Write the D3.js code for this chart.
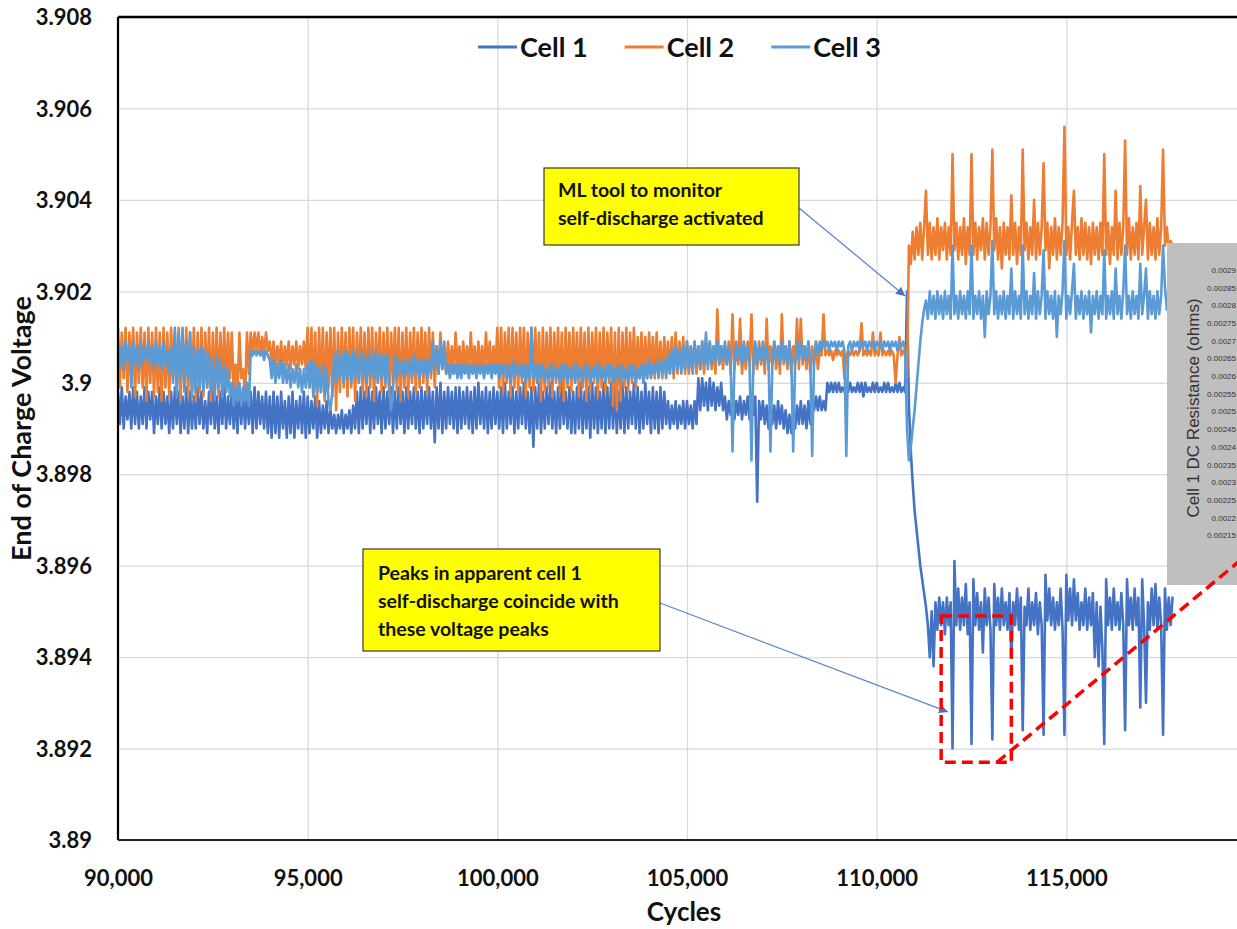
<!DOCTYPE html>
<html>
<head>
<meta charset="utf-8">
<script src="https://cdn.jsdelivr.net/npm/d3@7"></script>
<style>
  html, body { margin: 0; padding: 0; background: #ffffff; }
  svg { display: block; }
  .lato { font-family: Lato, "Open Sans", "Noto Sans", sans-serif; }
  .arial { font-family: "Liberation Sans", Arial, sans-serif; }
</style>
</head>
<body>
<svg id="chart" width="1237" height="929"></svg>
<script>
// End-of-charge voltage, one reading every 50 cycles from cycle 90,000 (one row = 1,000 cycles)
const CYCLE_START = 90000;
const CYCLE_STEP = 50;

const cell1 = [
  3.8998,3.8991,3.8999,3.8990,3.8997,3.8992,3.8998,3.8990,3.8999,3.8991,3.8998,3.8990,3.8997,3.8991,3.8999,3.8990,3.8998,3.8992,3.8998,3.8989,
  3.8997,3.8991,3.8999,3.8990,3.8998,3.8991,3.8997,3.8989,3.8998,3.8990,3.8999,3.8991,3.8998,3.8989,3.8997,3.8990,3.8999,3.8989,3.8998,3.8990,
  3.8997,3.8990,3.8999,3.8991,3.8998,3.8990,3.8996,3.8989,3.8998,3.8991,3.8999,3.8990,3.8997,3.8989,3.8998,3.8991,3.8999,3.8990,3.8997,3.8991,
  3.8998,3.8990,3.8997,3.8989,3.8999,3.8991,3.8998,3.8990,3.8997,3.8991,3.8998,3.8989,3.8999,3.8990,3.8998,3.8991,3.8997,3.8990,3.8998,3.8989,
  3.8997,3.8988,3.8998,3.8989,3.8997,3.8988,3.8998,3.8990,3.8996,3.8988,3.8997,3.8989,3.8998,3.8988,3.8996,3.8990,3.8997,3.8989,3.8998,3.8988,
  3.8997,3.8989,3.8996,3.8990,3.8997,3.8988,3.8996,3.8989,3.8995,3.8990,3.8996,3.8989,3.8994,3.8990,3.8993,3.8989,3.8993,3.8990,3.8994,3.8989,
  3.8993,3.8990,3.8994,3.8989,3.8995,3.8990,3.8998,3.8989,3.8999,3.8990,3.8998,3.8991,3.8999,3.8989,3.8998,3.8990,3.8999,3.8991,3.8998,3.8989,
  3.8999,3.8990,3.8998,3.8991,3.8999,3.8989,3.8998,3.8990,3.8999,3.8991,3.8998,3.8989,3.8999,3.8990,3.8998,3.8991,3.8999,3.8990,3.8998,3.8989,
  3.8999,3.8990,3.8998,3.8991,3.8999,3.8990,3.8998,3.8987,3.8999,3.8990,3.9000,3.8989,3.8998,3.8990,3.8999,3.8991,3.8998,3.8990,3.8999,3.8989,
  3.8999,3.8990,3.8998,3.8991,3.8999,3.8990,3.8998,3.8989,3.8999,3.8990,3.9000,3.8991,3.8998,3.8990,3.8999,3.8989,3.8998,3.8990,3.8999,3.8991,
  3.8998,3.8990,3.8999,3.8989,3.9000,3.8990,3.8998,3.8991,3.8999,3.8989,3.8998,3.8990,3.8999,3.8991,3.9000,3.8990,3.8998,3.8989,3.8999,3.8986,
  3.8999,3.8990,3.9000,3.8989,3.8998,3.8990,3.8999,3.8991,3.9000,3.8990,3.8998,3.8989,3.8999,3.8990,3.9000,3.8991,3.8998,3.8990,3.8999,3.8989,
  3.8998,3.8989,3.8999,3.8990,3.9000,3.8989,3.8998,3.8990,3.8999,3.8988,3.9000,3.8990,3.8999,3.8989,3.8998,3.8990,3.9000,3.8989,3.8999,3.8990,
  3.9000,3.8990,3.8999,3.8989,3.8998,3.8990,3.9000,3.8989,3.8999,3.8990,3.8998,3.8991,3.9000,3.8990,3.8999,3.8989,3.8998,3.8990,3.9000,3.8991,
  3.8998,3.8989,3.8999,3.8990,3.8998,3.8989,3.8999,3.8990,3.8998,3.8991,3.8996,3.8990,3.8995,3.8991,3.8996,3.8990,3.8995,3.8991,3.8996,3.8990,
  3.8996,3.8991,3.8995,3.8990,3.8996,3.8991,3.9001,3.8994,3.9001,3.8995,3.9000,3.8994,3.9001,3.8995,3.9000,3.8994,3.8999,3.8995,3.9000,3.8994,
  3.8997,3.8992,3.8996,3.8993,3.8997,3.8992,3.8996,3.8993,3.8997,3.8992,3.8996,3.8993,3.8997,3.8992,3.8996,3.8993,3.8997,3.8974,3.8996,3.8992,
  3.8996,3.8991,3.8995,3.8990,3.8996,3.8991,3.8995,3.8990,3.8996,3.8991,3.8995,3.8990,3.8994,3.8989,3.8993,3.8989,3.8994,3.8990,3.8995,3.8991,
  3.8996,3.8991,3.8995,3.8990,3.8996,3.8991,3.8997,3.8994,3.8997,3.8994,3.8997,3.8994,3.8996,3.8994,3.9000,3.8998,3.9000,3.8998,3.9000,3.8998,
  3.9000,3.8998,3.8999,3.8998,3.9000,3.8998,3.9000,3.8998,3.8999,3.8998,3.9000,3.8998,3.9000,3.8997,3.9000,3.8998,3.8999,3.8998,3.9000,3.8998,
  3.9000,3.8998,3.8999,3.8998,3.9000,3.8998,3.9000,3.8998,3.8999,3.8998,3.9000,3.8998,3.9000,3.8998,3.8999,3.8998,3.9020,3.8995,3.8985,3.8978,
  3.8972,3.8968,3.8964,3.8960,3.8957,3.8954,3.8951,3.8947,3.8940,3.8950,3.8938,3.8952,3.8946,3.8953,3.8947,3.8952,3.8945,3.8953,3.8947,3.8952,
  3.8920,3.8961,3.8947,3.8955,3.8946,3.8953,3.8947,3.8956,3.8945,3.8952,3.8921,3.8957,3.8947,3.8954,3.8946,3.8952,3.8941,3.8955,3.8947,3.8953,
  3.8946,3.8922,3.8956,3.8947,3.8953,3.8946,3.8955,3.8947,3.8952,3.8946,3.8954,3.8940,3.8952,3.8947,3.8955,3.8946,3.8953,3.8924,3.8951,3.8947,
  3.8955,3.8946,3.8952,3.8947,3.8954,3.8945,3.8952,3.8947,3.8923,3.8958,3.8948,3.8955,3.8947,3.8953,3.8946,3.8952,3.8947,3.8955,3.8946,3.8923,
  3.8958,3.8948,3.8955,3.8947,3.8957,3.8948,3.8954,3.8946,3.8952,3.8947,3.8955,3.8946,3.8953,3.8947,3.8954,3.8940,3.8952,3.8938,3.8951,3.8942,
  3.8921,3.8957,3.8947,3.8953,3.8946,3.8955,3.8947,3.8952,3.8946,3.8954,3.8947,3.8924,3.8957,3.8947,3.8953,3.8946,3.8955,3.8947,3.8953,3.8929,
  3.8957,3.8947,3.8930,3.8952,3.8946,3.8955,3.8947,3.8956,3.8946,3.8953,3.8947,3.8923,3.8955,3.8946,3.8953,3.8947,3.8953
];

const cell2 = [
  3.9012,3.8999,3.9011,3.9001,3.9012,3.8998,3.9011,3.9002,3.9012,3.8997,3.9011,3.9000,3.9012,3.8999,3.9011,3.8996,3.9012,3.9000,3.9011,3.8997,
  3.9012,3.8998,3.9011,3.8996,3.9012,3.8999,3.9011,3.8997,3.9012,3.9001,3.9011,3.8998,3.9012,3.8996,3.9011,3.8999,3.9012,3.8997,3.9011,3.8998,
  3.9012,3.8996,3.9011,3.8998,3.9012,3.8997,3.9011,3.8999,3.9012,3.8996,3.9011,3.8998,3.9012,3.8997,3.9011,3.8999,3.9012,3.8998,3.9011,3.9001,
  3.9011,3.8998,3.9004,3.8997,3.9011,3.9001,3.9003,3.8997,3.9011,3.9002,3.9011,3.9006,3.9011,3.9007,3.9011,3.9006,3.9010,3.9006,3.9011,3.9007,
  3.9009,3.9004,3.9009,3.9003,3.9008,3.9004,3.9009,3.9003,3.9008,3.9004,3.9009,3.9003,3.9008,3.9004,3.9009,3.9003,3.9008,3.9004,3.9009,3.9003,
  3.9012,3.8999,3.9012,3.8997,3.9011,3.8995,3.9012,3.8998,3.9012,3.8996,3.9011,3.8999,3.9012,3.8997,3.9012,3.8994,3.9011,3.8998,3.9012,3.8999,
  3.9011,3.8997,3.9012,3.8999,3.9012,3.8996,3.9011,3.9000,3.9012,3.8998,3.9011,3.8997,3.9012,3.8999,3.9012,3.8996,3.9011,3.9000,3.9012,3.8998,
  3.9011,3.8999,3.9012,3.8997,3.9011,3.9000,3.9012,3.8998,3.9012,3.8996,3.9011,3.8999,3.9012,3.8997,3.9011,3.9000,3.9012,3.8998,3.9011,3.8999,
  3.9012,3.9000,3.9011,3.8998,3.9012,3.9001,3.9011,3.8999,3.9008,3.9002,3.9011,3.9003,3.9008,3.9002,3.9009,3.9003,3.9008,3.9002,3.9011,3.9003,
  3.9008,3.9002,3.9009,3.9003,3.9008,3.9002,3.9011,3.9003,3.9008,3.9002,3.9009,3.9003,3.9008,3.9002,3.9011,3.9003,3.9009,3.9002,3.9008,3.9003,
  3.9012,3.8999,3.9012,3.8998,3.9011,3.9000,3.9012,3.8997,3.9012,3.8999,3.9011,3.8998,3.9012,3.9000,3.9012,3.8997,3.9011,3.8999,3.9012,3.8998,
  3.9012,3.9000,3.9011,3.8996,3.9012,3.8998,3.9011,3.8999,3.9012,3.8997,3.9011,3.9000,3.9012,3.8998,3.9011,3.8996,3.9012,3.8999,3.9011,3.8998,
  3.9012,3.9000,3.9011,3.8997,3.9012,3.8999,3.9011,3.8996,3.9012,3.8998,3.9011,3.9000,3.9012,3.8997,3.9011,3.8999,3.9012,3.8998,3.9011,3.9000,
  3.9012,3.8995,3.9011,3.8994,3.9012,3.8996,3.9011,3.8999,3.9012,3.8998,3.9011,3.9000,3.9012,3.8999,3.9010,3.9001,3.9011,3.9000,3.9010,3.9001,
  3.9011,3.9002,3.9010,3.9001,3.9011,3.9002,3.9009,3.9001,3.9010,3.9003,3.9009,3.9002,3.9010,3.9001,3.9011,3.9002,3.9009,3.9003,3.9010,3.9002,
  3.9009,3.9002,3.9008,3.9003,3.9009,3.9002,3.9008,3.9003,3.9009,3.9002,3.9008,3.9004,3.9009,3.9003,3.9008,3.9002,3.9016,3.9004,3.9008,3.9003,
  3.9008,3.9004,3.9009,3.9002,3.9015,3.9003,3.9008,3.9004,3.9014,3.9002,3.9008,3.9003,3.9009,3.9004,3.9015,3.9002,3.9008,3.9003,3.9009,3.9004,
  3.9008,3.9002,3.9014,3.9003,3.9008,3.9004,3.9009,3.9003,3.9008,3.9002,3.9015,3.9004,3.9008,3.9003,3.9009,3.9002,3.9008,3.9004,3.9014,3.9003,
  3.9014,3.9004,3.9008,3.9003,3.9009,3.9002,3.9008,3.9004,3.9009,3.9003,3.9007,3.9006,3.9015,3.9006,3.9007,3.9006,3.9007,3.9005,3.9007,3.9006,
  3.9007,3.9006,3.9007,3.9001,3.9006,3.9007,3.9006,3.9007,3.9006,3.9007,3.9006,3.9007,3.9013,3.9006,3.9007,3.9006,3.9007,3.9006,3.9011,3.9006,
  3.9007,3.9006,3.9011,3.9006,3.9007,3.9006,3.9007,3.9006,3.9007,3.9006,3.9000,3.9006,3.9010,3.9006,3.9007,3.9006,3.9001,3.9030,3.9026,3.9033,
  3.9027,3.9034,3.9028,3.9035,3.9027,3.9034,3.9042,3.9028,3.9035,3.9027,3.9034,3.9028,3.9036,3.9027,3.9034,3.9029,3.9035,3.9027,3.9034,3.9028,
  3.9050,3.9029,3.9035,3.9027,3.9034,3.9028,3.9036,3.9026,3.9034,3.9028,3.9050,3.9028,3.9035,3.9027,3.9034,3.9029,3.9036,3.9027,3.9035,3.9028,
  3.9034,3.9051,3.9029,3.9036,3.9027,3.9034,3.9025,3.9035,3.9028,3.9034,3.9027,3.9041,3.9028,3.9035,3.9026,3.9034,3.9028,3.9051,3.9029,3.9035,
  3.9027,3.9034,3.9028,3.9040,3.9027,3.9035,3.9028,3.9034,3.9048,3.9029,3.9035,3.9025,3.9034,3.9028,3.9036,3.9027,3.9034,3.9028,3.9035,3.9056,
  3.9028,3.9034,3.9027,3.9035,3.9042,3.9028,3.9034,3.9027,3.9036,3.9028,3.9035,3.9027,3.9034,3.9026,3.9035,3.9028,3.9034,3.9027,3.9035,3.9028,
  3.9050,3.9028,3.9035,3.9026,3.9034,3.9028,3.9042,3.9027,3.9035,3.9028,3.9034,3.9053,3.9028,3.9036,3.9027,3.9034,3.9028,3.9035,3.9027,3.9043,
  3.9028,3.9034,3.9040,3.9027,3.9035,3.9028,3.9034,3.9027,3.9036,3.9028,3.9034,3.9051,3.9030,3.9034,3.9029,3.9031,3.9030
];

const cell3 = [
  3.9009,3.9004,3.9008,3.9003,3.9009,3.9005,3.9008,3.8999,3.9009,3.9004,3.9008,3.9003,3.9009,3.9004,3.9008,3.9005,3.9009,3.9004,3.9008,3.9003,
  3.9009,3.9004,3.9008,3.9003,3.9009,3.9004,3.9007,3.9002,3.9008,3.9000,3.9012,3.8997,3.9011,3.9001,3.9012,3.8998,3.9009,3.9001,3.9011,3.8997,
  3.9008,3.8998,3.9007,3.8999,3.9008,3.8998,3.9007,3.8999,3.9006,3.8998,3.9005,3.8997,3.9006,3.8999,3.9005,3.8997,3.9004,3.8998,3.9003,3.8997,
  3.9000,3.8995,3.8999,3.8996,3.9000,3.8995,3.8999,3.8996,3.9000,3.8995,3.9007,3.9006,3.9007,3.9006,3.9007,3.9006,3.9007,3.9005,3.9007,3.9006,
  3.9005,3.9001,3.9005,3.9000,3.9004,3.9001,3.9005,3.9000,3.9004,3.9000,3.9004,3.8999,3.9003,3.9000,3.9004,3.8999,3.9003,3.8998,3.9003,3.8999,
  3.9004,3.8999,3.9005,3.8997,3.9004,3.8998,3.9003,3.8998,3.9004,3.8997,3.9003,3.8996,3.8994,3.8998,3.9006,3.9000,3.9007,3.9001,3.9006,3.9000,
  3.9007,3.9001,3.9006,3.9000,3.9007,3.9001,3.9006,3.9000,3.9007,3.9001,3.9006,3.9000,3.9007,3.9001,3.9006,3.9001,3.9007,3.9000,3.9006,3.9001,
  3.9006,3.9000,3.9006,3.8999,3.8994,3.8999,3.9006,3.9001,3.9005,3.9002,3.9005,3.9001,3.9005,3.9002,3.9005,3.9001,3.9006,3.9002,3.9005,3.9001,
  3.9005,3.9002,3.9005,3.9001,3.9005,3.9002,3.9009,3.9003,3.9008,3.9002,3.9009,3.9003,3.9009,3.9002,3.9004,3.9001,3.9004,3.9002,3.9004,3.9001,
  3.9004,3.9001,3.9004,3.9002,3.9004,3.9001,3.9004,3.9002,3.9004,3.9001,3.9004,3.9002,3.9004,3.9001,3.9004,3.9002,3.9004,3.9001,3.9004,3.9002,
  3.9004,3.9001,3.9004,3.9002,3.9004,3.9001,3.9004,3.9000,3.9005,3.9001,3.9004,3.9002,3.9004,3.9001,3.9004,3.9000,3.9004,3.9001,3.9012,3.9001,
  3.9004,3.9000,3.9004,3.9001,3.9004,3.9000,3.9003,3.9001,3.9004,3.9000,3.9004,3.9001,3.9003,3.9000,3.9004,3.9001,3.9004,3.9000,3.9003,3.9001,
  3.9004,3.9000,3.9004,3.9001,3.9003,3.9000,3.9004,3.9001,3.9004,3.9000,3.9003,3.9001,3.9004,3.9000,3.9004,3.9001,3.9003,3.9000,3.9004,3.9001,
  3.9004,3.9000,3.9003,3.9001,3.9004,3.9000,3.9004,3.9001,3.9003,3.9000,3.9004,3.9001,3.9004,3.9000,3.9003,3.9001,3.9004,3.9000,3.9004,3.9001,
  3.9005,3.9001,3.9004,3.9002,3.9005,3.9001,3.9005,3.9002,3.9005,3.9001,3.9006,3.9002,3.9007,3.9002,3.9008,3.9003,3.9007,3.9002,3.9008,3.9003,
  3.9009,3.9003,3.9008,3.9002,3.9009,3.9004,3.9008,3.9003,3.9009,3.9004,3.9011,3.9003,3.9009,3.9004,3.9008,3.9005,3.9009,3.9004,3.9008,3.9005,
  3.9009,3.9004,3.9008,3.9005,3.8985,3.9004,3.9009,3.9005,3.9008,3.9004,3.9009,3.9005,3.9008,3.9004,3.8983,3.9005,3.9009,3.9004,3.9008,3.9005,
  3.9009,3.9004,3.9008,3.9005,3.8985,3.9004,3.9009,3.9005,3.9008,3.9004,3.9009,3.9005,3.9008,3.9004,3.9009,3.9005,3.8985,3.9004,3.9009,3.9005,
  3.9009,3.9005,3.9008,3.9005,3.9009,3.9005,3.8984,3.9005,3.9009,3.9006,3.9009,3.9007,3.9009,3.9008,3.9009,3.9007,3.9009,3.9008,3.9009,3.9007,
  3.9009,3.9008,3.9009,3.9007,3.8984,3.9008,3.9009,3.9007,3.9009,3.9008,3.9009,3.9007,3.9009,3.9008,3.9009,3.9007,3.9009,3.9008,3.9009,3.9007,
  3.9009,3.9008,3.9009,3.9007,3.9009,3.9008,3.9009,3.9007,3.9009,3.9008,3.9009,3.9007,3.9009,3.9008,3.9009,3.9007,3.8990,3.8983,3.8986,3.8990,
  3.8994,3.8999,3.9004,3.9009,3.9013,3.9016,3.9018,3.9014,3.9020,3.9015,3.9019,3.9014,3.9020,3.9015,3.9019,3.9014,3.9020,3.9015,3.9019,3.9014,
  3.9030,3.9015,3.9019,3.9014,3.9020,3.9015,3.9019,3.9014,3.9020,3.9015,3.9030,3.9014,3.9019,3.9015,3.9020,3.9014,3.9019,3.9010,3.9020,3.9015,
  3.9019,3.9031,3.9015,3.9020,3.9014,3.9019,3.9015,3.9020,3.9014,3.9019,3.9015,3.9025,3.9014,3.9020,3.9015,3.9019,3.9014,3.9030,3.9015,3.9020,
  3.9014,3.9019,3.9015,3.9024,3.9014,3.9020,3.9015,3.9019,3.9029,3.9014,3.9020,3.9015,3.9019,3.9014,3.9020,3.9010,3.9019,3.9015,3.9020,3.9031,
  3.9014,3.9019,3.9015,3.9020,3.9026,3.9014,3.9019,3.9015,3.9020,3.9014,3.9019,3.9015,3.9020,3.9011,3.9019,3.9015,3.9020,3.9014,3.9019,3.9015,
  3.9029,3.9014,3.9019,3.9015,3.9020,3.9014,3.9025,3.9015,3.9019,3.9014,3.9020,3.9030,3.9015,3.9019,3.9014,3.9020,3.9015,3.9019,3.9014,3.9026,
  3.9015,3.9019,3.9025,3.9014,3.9020,3.9015,3.9019,3.9014,3.9020,3.9015,3.9019,3.9030,3.9021,3.9016,3.9020,3.9015,3.9020
];

const seriesNames = ["Cell 1", "Cell 2", "Cell 3"];
const seriesColors = ["#4472C4", "#ED7D31", "#5B9BD5"];

const xTickValues = [90000, 95000, 100000, 105000, 110000, 115000];
const yTickValues = [3.89, 3.892, 3.894, 3.896, 3.898, 3.9, 3.902, 3.904, 3.906, 3.908];
const yTickLabels = ["3.89", "3.892", "3.894", "3.896", "3.898", "3.9", "3.902", "3.904", "3.906", "3.908"];

// Labels of the embedded DC-resistance axis
const insetTickLabels = ["0.0029", "0.00285", "0.0028", "0.00275", "0.0027", "0.00265", "0.0026", "0.00255",
                         "0.0025", "0.00245", "0.0024", "0.00235", "0.0023", "0.00225", "0.0022", "0.00215"];

const noteActivated = ["ML tool to monitor", "self-discharge activated"];
const notePeaks = ["Peaks in apparent cell 1", "self-discharge coincide with", "these voltage peaks"];

// ---- layout ----
const svg = d3.select("#chart");
const W = 1237, H = 929;
const plot = { left: 118, top: 17, right: 1256, bottom: 840 };
const plotW = plot.right - plot.left, plotH = plot.bottom - plot.top;

const x = d3.scaleLinear().domain([90000, 120000]).range([plot.left, plot.right]);
const y = d3.scaleLinear().domain([3.89, 3.908]).range([plot.bottom, plot.top]);

svg.append("rect").attr("width", W).attr("height", H).attr("fill", "#ffffff");

const defs = svg.append("defs");
defs.append("clipPath").attr("id", "plotClip")
  .append("rect").attr("x", plot.left).attr("y", plot.top).attr("width", plotW).attr("height", plotH);

// gridlines + tick labels via d3 axes
const yAxis = d3.axisLeft(y).tickValues(yTickValues).tickSize(-plotW).tickPadding(26)
  .tickFormat((d, i) => yTickLabels[i]);
const gy = svg.append("g").attr("transform", `translate(${plot.left},0)`).call(yAxis);
gy.select(".domain").remove();
gy.selectAll(".tick line").attr("stroke", "#d9d9d9").attr("stroke-width", 1.3);
gy.selectAll(".tick text").attr("class", "lato").attr("font-size", 22).attr("font-weight", 700)
  .attr("fill", "#111").attr("dy", "0.35em");

const xAxis = d3.axisBottom(x).tickValues(xTickValues).tickSize(-plotH).tickPadding(30)
  .tickFormat(d3.format(","));
const gx = svg.append("g").attr("transform", `translate(0,${plot.bottom})`).call(xAxis);
gx.select(".domain").remove();
gx.selectAll(".tick line").attr("stroke", "#d9d9d9").attr("stroke-width", 1.3);
gx.selectAll(".tick text").attr("class", "lato").attr("font-size", 22).attr("font-weight", 700)
  .attr("fill", "#111");

// series lines
const lineGen = d3.line()
  .x((d, i) => x(CYCLE_START + i * CYCLE_STEP))
  .y(d => y(d));

const series = [cell1, cell2, cell3];
const gLines = svg.append("g").attr("clip-path", "url(#plotClip)");
series.forEach((vals, k) => {
  gLines.append("path")
    .datum(vals)
    .attr("d", lineGen)
    .attr("fill", "none")
    .attr("stroke", seriesColors[k])
    .attr("stroke-width", 2.6)
    .attr("stroke-linejoin", "round")
    .attr("stroke-linecap", "round");
});

// plot frame
svg.append("line").attr("x1", plot.left).attr("x2", plot.right).attr("y1", plot.top).attr("y2", plot.top)
  .attr("stroke", "#000").attr("stroke-width", 2.5);
svg.append("line").attr("x1", plot.left).attr("x2", plot.left).attr("y1", plot.top).attr("y2", plot.bottom)
  .attr("stroke", "#000").attr("stroke-width", 2.2);
svg.append("line").attr("x1", plot.left).attr("x2", plot.right).attr("y1", plot.bottom).attr("y2", plot.bottom)
  .attr("stroke", "#222").attr("stroke-width", 2);

// axis titles
svg.append("text").attr("class", "lato")
  .attr("transform", `translate(31,${(plot.top + plot.bottom) / 2}) rotate(-90)`)
  .attr("text-anchor", "middle").attr("font-size", 27).attr("font-weight", 700).attr("fill", "#111")
  .text("End of Charge Voltage");

svg.append("text").attr("class", "lato")
  .attr("x", 684).attr("y", 921)
  .attr("text-anchor", "middle").attr("font-size", 26).attr("font-weight", 700).attr("fill", "#111")
  .text("Cycles");

// legend
const legend = svg.append("g").attr("transform", "translate(0,47)");
let lx = 478;
seriesNames.forEach((name, k) => {
  legend.append("line").attr("x1", lx).attr("x2", lx + 39).attr("y1", 0).attr("y2", 0)
    .attr("stroke", seriesColors[k]).attr("stroke-width", 3);
  const t = legend.append("text").attr("class", "lato")
    .attr("x", lx + 42).attr("y", 0).attr("dy", "0.36em")
    .attr("font-size", 27).attr("font-weight", 700).attr("fill", "#111").text(name);
  lx = lx + 42 + t.node().getComputedTextLength() + 37;
});

// arrow marker
defs.append("marker").attr("id", "arrowHead")
  .attr("viewBox", "0 0 10 10").attr("refX", 10).attr("refY", 5)
  .attr("markerWidth", 9).attr("markerHeight", 9).attr("markerUnits", "userSpaceOnUse")
  .attr("orient", "auto")
  .append("path").attr("d", "M0,0 L10,5 L0,10 z").attr("fill", "#4472C4");

function callout(box, lines, target, from) {
  svg.append("line")
    .attr("x1", from[0]).attr("y1", from[1])
    .attr("x2", x(target[0])).attr("y2", y(target[1]))
    .attr("stroke", "#5b86cf").attr("stroke-width", 1.3)
    .attr("marker-end", "url(#arrowHead)");
  svg.append("rect").attr("x", box.x).attr("y", box.y).attr("width", box.w).attr("height", box.h)
    .attr("fill", "#ffff00").attr("stroke", "#3a3a3a").attr("stroke-width", 1.2);
  lines.forEach((s, i) => {
    svg.append("text").attr("class", "lato")
      .attr("x", box.x + box.pad).attr("y", box.y + box.first + i * box.lh)
      .attr("font-size", 19.5).attr("font-weight", 700).attr("fill", "#111").text(s);
  });
}

callout({ x: 544, y: 168, w: 255, h: 77, pad: 14, first: 29, lh: 27.5 },
        noteActivated, [110750, 3.9019], [799, 208]);
callout({ x: 363, y: 549, w: 297, h: 102, pad: 15, first: 31, lh: 28 },
        notePeaks, [111880, 3.8928], [660, 603]);

// embedded resistance chart fragment at the right edge
const inset = svg.append("g");
inset.append("rect").attr("x", 1167).attr("y", 243).attr("width", 80).attr("height", 342)
  .attr("fill", "#bfbfbf");
inset.append("text").attr("class", "arial")
  .attr("transform", "translate(1199,408) rotate(-90)")
  .attr("text-anchor", "middle").attr("font-size", 17).attr("fill", "#333")
  .text("Cell 1 DC Resistance (ohms)");
insetTickLabels.forEach((s, i) => {
  inset.append("text").attr("class", "arial")
    .attr("x", 1236).attr("y", 270 + i * 17.7).attr("dy", "0.35em")
    .attr("text-anchor", "end").attr("font-size", 8).attr("fill", "#333").text(s);
});

// red dashed highlight of the first peaks and the link to the resistance chart
svg.append("rect")
  .attr("x", x(111700)).attr("y", y(3.8949))
  .attr("width", x(113550) - x(111700)).attr("height", y(3.8917) - y(3.8949))
  .attr("fill", "none").attr("stroke", "#ff0000").attr("stroke-width", 3.5)
  .attr("stroke-dasharray", "11,6");
svg.append("line")
  .attr("x1", x(113170)).attr("y1", y(3.8917))
  .attr("x2", x(120000)).attr("y2", y(3.8964))
  .attr("stroke", "#ff0000").attr("stroke-width", 3.5)
  .attr("stroke-dasharray", "11,6");
</script>
</body>
</html>
